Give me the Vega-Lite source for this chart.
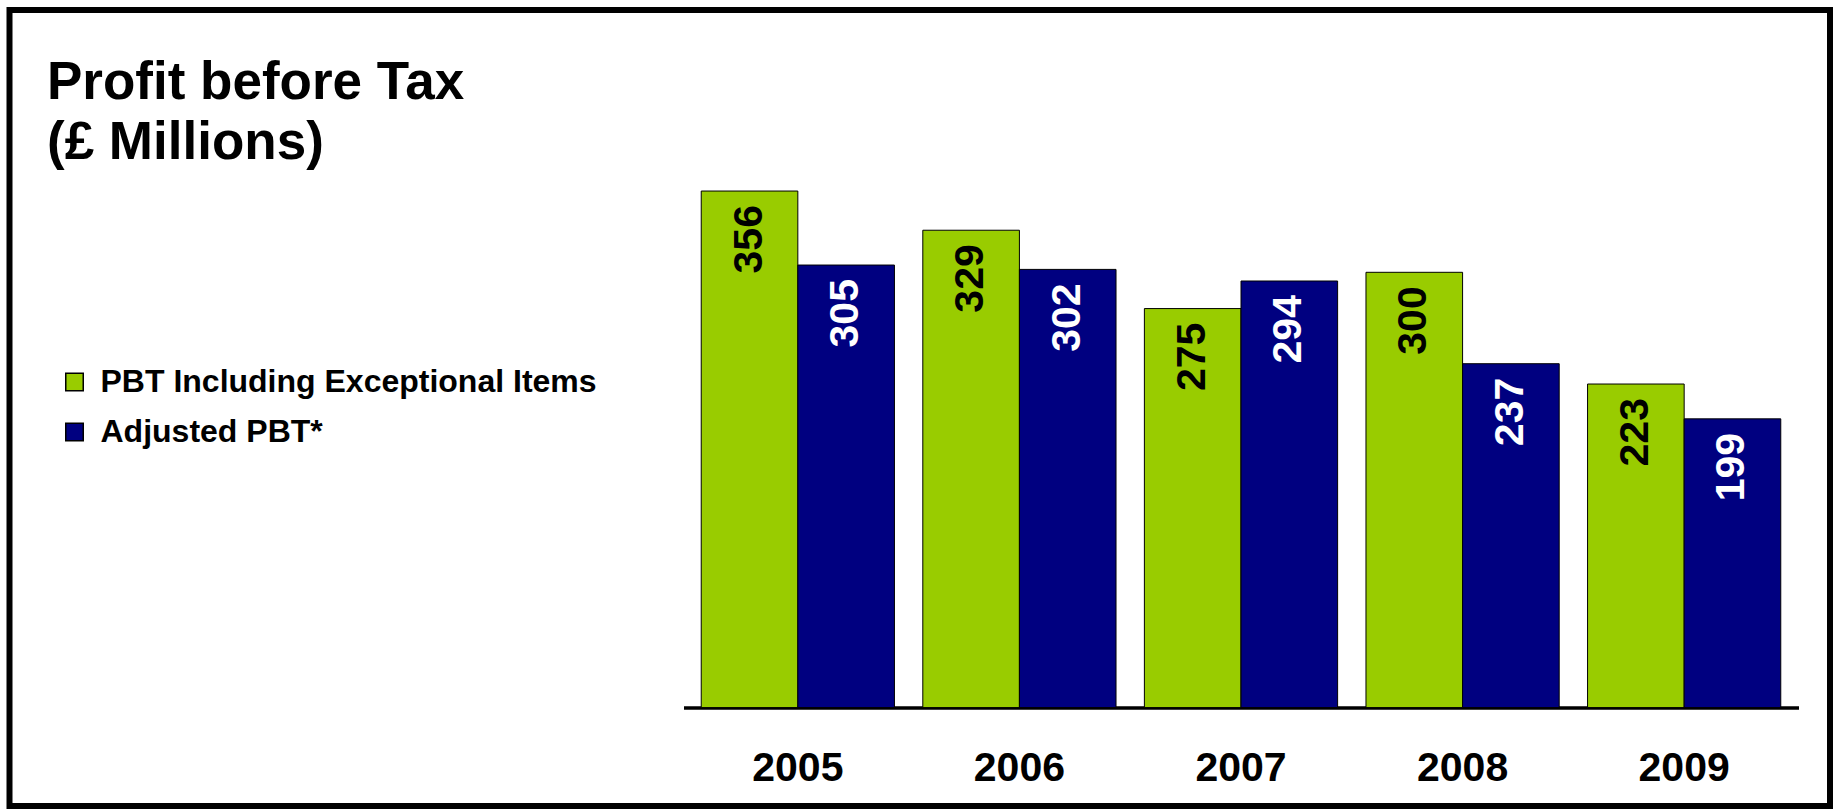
{
  "$schema": "https://vega.github.io/schema/vega-lite/v6.json",
  "autosize": {"type": "none"},
  "padding": {"left": 9.5, "top": 10, "right": 7, "bottom": 3},
  "width": 1820.5,
  "height": 796,
  "background": "white",
  "config": {
    "font": "Liberation Sans",
    "view": {"stroke": "black", "strokeWidth": 6}
  },
  "title": {
    "text": ["Profit before Tax", "(£ Millions)"],
    "orient": "top",
    "anchor": "start",
    "frame": "group",
    "fontSize": 53,
    "fontWeight": "bold",
    "font": "Liberation Sans",
    "color": "black",
    "lineHeight": 60,
    "offset": 0,
    "dx": 37.5,
    "dy": 160
  },
  "data": {
    "values": [
      {"year": "2005", "series": "PBT Including Exceptional Items", "value": 356},
      {"year": "2005", "series": "Adjusted PBT*", "value": 305},
      {"year": "2006", "series": "PBT Including Exceptional Items", "value": 329},
      {"year": "2006", "series": "Adjusted PBT*", "value": 302},
      {"year": "2007", "series": "PBT Including Exceptional Items", "value": 275},
      {"year": "2007", "series": "Adjusted PBT*", "value": 294},
      {"year": "2008", "series": "PBT Including Exceptional Items", "value": 300},
      {"year": "2008", "series": "Adjusted PBT*", "value": 237},
      {"year": "2009", "series": "PBT Including Exceptional Items", "value": 223},
      {"year": "2009", "series": "Adjusted PBT*", "value": 199}
    ]
  },
  "encoding": {
    "x": {
      "field": "year",
      "type": "nominal",
      "scale": {"range": [674, 1789], "paddingInner": 0.128, "paddingOuter": 0.08},
      "axis": {
        "title": null,
        "orient": "bottom",
        "offset": -98.4,
        "labelAngle": 0,
        "labelFontSize": 41,
        "labelFontWeight": "bold",
        "labelColor": "black",
        "labelFont": "Liberation Sans",
        "labelPadding": 41,
        "labelBaseline": "top",
        "ticks": false,
        "grid": false,
        "domainColor": "black",
        "domainWidth": 3.5
      }
    },
    "xOffset": {
      "field": "series",
      "type": "nominal",
      "scale": {"domain": ["PBT Including Exceptional Items", "Adjusted PBT*"], "paddingInner": 0, "paddingOuter": 0}
    },
    "y": {
      "field": "value",
      "type": "quantitative",
      "scale": {"domain": [0, 400], "range": [697.6, 117.2], "nice": false, "zero": true},
      "axis": null
    }
  },
  "layer": [
    {
      "mark": {"type": "bar", "stroke": "black", "strokeWidth": 1},
      "encoding": {
        "color": {
          "field": "series",
          "type": "nominal",
          "scale": {"domain": ["PBT Including Exceptional Items", "Adjusted PBT*"], "range": ["#99CC00", "#000080"]},
          "legend": {
            "title": null,
            "orient": "none",
            "legendX": 49,
            "legendY": 356,
            "symbolType": "square",
            "symbolSize": 306,
            "symbolStrokeColor": "black",
            "symbolStrokeWidth": 1.5,
            "symbolOpacity": 1,
            "labelFontSize": 32,
            "labelFontWeight": "bold",
            "labelFont": "Liberation Sans",
            "labelColor": "black",
            "labelOffset": 10,
            "labelLimit": 0,
            "rowPadding": 18
          }
        }
      }
    },
    {
      "mark": {"type": "text", "angle": 270, "align": "right", "baseline": "middle", "dx": -14, "fontSize": 41, "fontWeight": "bold", "font": "Liberation Sans"},
      "encoding": {
        "text": {"field": "value", "type": "quantitative"},
        "color": {
          "condition": {"test": "datum.series === 'Adjusted PBT*'", "value": "white"},
          "value": "black"
        }
      }
    }
  ]
}
